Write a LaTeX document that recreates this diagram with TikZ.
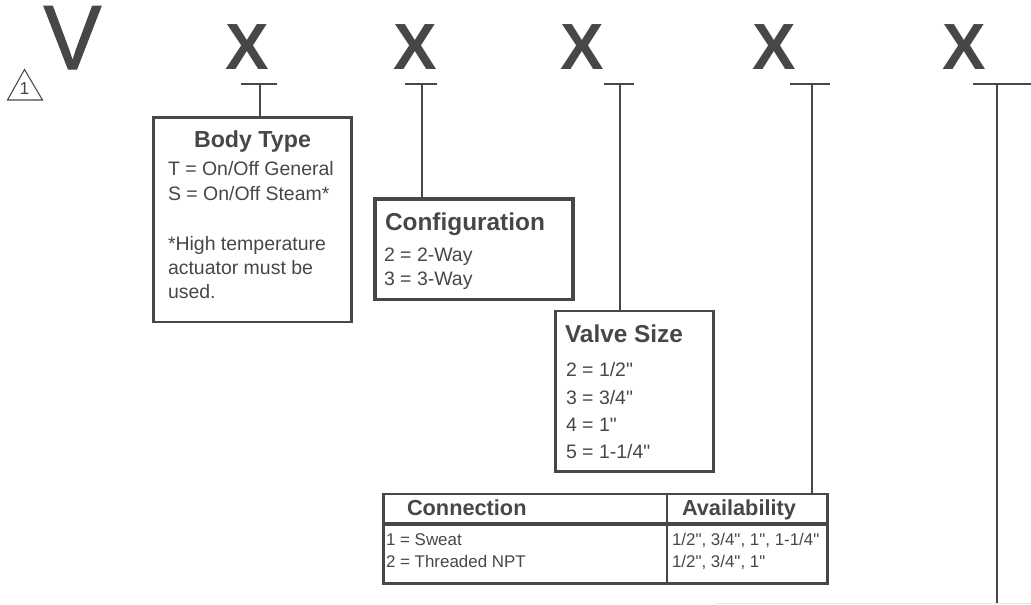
\documentclass[tikz,border=0pt]{standalone}
\usepackage{fontspec}
\setmainfont{Liberation Sans}[Ligatures=TeXOff]
\newfontfamily\vfont{Liberation Sans}[Ligatures=TeXOff,FakeBold=1.2,FakeStretch=0.95]
\definecolor{ink}{HTML}{474747}
\tikzset{
  every node/.style={inner sep=0pt, outer sep=0pt, text=ink},
  bigletter/.style={anchor=base, font=\bfseries\fontsize{49}{49}\selectfont},
  title/.style={anchor=base west, font=\bfseries\fontsize{18.3}{20}\selectfont},
  body/.style={anchor=base west, font=\fontsize{14.6}{16}\selectfont},
  small/.style={anchor=base west, font=\fontsize{12.7}{14}\selectfont},
  thead/.style={anchor=base west, font=\bfseries\fontsize{16.3}{18}\selectfont},
  boxed/.style={draw=ink, anchor=north west, line width=#1},
  boxed/.default=1.6pt,
  rule/.style={draw=ink, line width=1.5pt},
  stem/.style={draw=ink, line width=#1},
  stem/.default=1.5pt
}
\begin{document}
\begin{tikzpicture}[x=0.75pt,y=-0.75pt]
\useasboundingbox (0,0) rectangle (1031,604);
% code letters
\node[anchor=base, font=\vfont\fontsize{68.5}{68.5}\selectfont] (v) at (72.5,69) {V};
\node[bigletter] (x1) at (247,69) {X};
\node[bigletter] (x2) at (415,69) {X};
\node[bigletter] (x3) at (582,69) {X};
\node[bigletter] (x4) at (774,69) {X};
\node[bigletter] (x5) at (964,69) {X};
% delta note
\coordinate (ta) at (24.5,69.5);
\coordinate (tb) at (7.5,100);
\coordinate (tc) at (42.5,100);
\draw[ink, line width=0.8pt, line join=miter] (ta) -- (tb) -- (tc) -- cycle;
\node[anchor=base, font=\fontsize{13}{14}\selectfont] (tn) at (24.5,94) {1};
% bars
\coordinate (b1l) at (241,84); \coordinate (b1r) at (277,84); \coordinate (b1) at (259.5,84);
\coordinate (b2l) at (405,84); \coordinate (b2r) at (437,84); \coordinate (b2) at (422,84);
\coordinate (b3l) at (604,84); \coordinate (b3r) at (634,84); \coordinate (b3) at (620,84);
\coordinate (b4l) at (790,84); \coordinate (b4r) at (830,84); \coordinate (b4) at (812,84);
\coordinate (b5l) at (973,84); \coordinate (b5r) at (1031,84); \coordinate (b5) at (997,84);
\coordinate (e5) at (997,604);
\foreach \i in {1,...,5} \draw[rule] (b\i l) -- (b\i r);
% boxes
\node[boxed=1.8pt, minimum width=148.5pt, minimum height=153.5pt] (box1) at (153.5,117.5) {};
\node[boxed=2.4pt, minimum width=148.5pt, minimum height=75.4pt] (box2) at (375,199) {};
\node[boxed=2.2pt, minimum width=118.5pt, minimum height=120.4pt] (box3) at (555.5,311) {};
\node[boxed=2.2pt, minimum width=333pt, minimum height=67.1pt] (tbl) at (383.5,494) {};
% stems
\draw[stem] (b1) -- (b1 |- box1.north);
\draw[stem] (b2) -- (b2 |- box2.north);
\draw[stem=2.2pt] (b3) -- (b3 |- box3.north);
\draw[stem] (b4) -- (b4 |- tbl.north);
\draw[stem] (b5) -- (e5);
% box 1 text
\node[anchor=base, font=\bfseries\fontsize{17.4}{20}\selectfont] (t1) at (252.5,147) {Body Type};
\node[body] (t1a) at (168,175) {T = On/Off General};
\node[body] (t1b) at (168,200) {S = On/Off Steam*};
\node[body] (t1c) at (168,250) {*High temperature};
\node[body] (t1d) at (168,274) {actuator must be};
\node[body] (t1e) at (168,298) {used.};
% box 2 text
\node[title] (t2) at (385,230) {Configuration};
\node[body] (t2a) at (384,261) {2 = 2-Way};
\node[body] (t2b) at (384,285) {3 = 3-Way};
% box 3 text
\node[title] (t3) at (565,342) {Valve Size};
\node[body] (t3a) at (566,376) {2 = 1/2"};
\node[body] (t3b) at (566,404) {3 = 3/4"};
\node[body] (t3c) at (566,431) {4 = 1"};
\node[body] (t3d) at (566,458) {5 = 1-1/4"};
% table
\coordinate (dt) at (666.5,494);
\coordinate (db) at (666.5,583.5);
\coordinate (hl) at (383.5,524);
\coordinate (hr) at (827.5,524);
\draw[stem] (dt) -- (db);
\draw[stem=2.6pt] (hl) -- (hr);
\node[thead] (h1) at (407,515) {Connection};
\node[thead] (h2) at (682,515) {Availability};
\node[small] (c1) at (386,545) {1 = Sweat};
\node[small] (c2) at (386,567) {2 = Threaded NPT};
\node[small] (a1) at (672,545) {1/2", 3/4", 1", 1-1/4"};
\node[small] (a2) at (672,567) {1/2", 3/4", 1"};
% faint edge at the foot
\coordinate (fl) at (716,603.5);
\coordinate (fr) at (1031,603.5);
\draw[black!10, line width=0.75pt] (fl) -- (fr);
\end{tikzpicture}
\end{document}
